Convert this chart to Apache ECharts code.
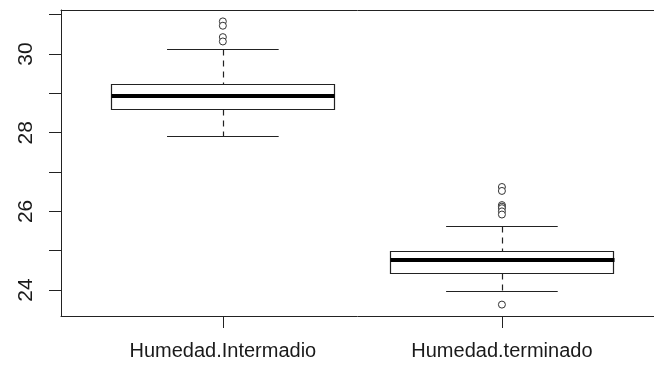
<!DOCTYPE html>
<html>
<head>
<meta charset="utf-8">
<script src="https://cdn.jsdelivr.net/npm/echarts@6/dist/echarts.min.js"></script>
<style>html,body{margin:0;padding:0;background:#fff;}#c{width:654px;height:367px;}</style>
</head>
<body>
<div id="c"></div>
<script>
// Data
var categories = ['Humedad.Intermadio', 'Humedad.terminado'];
// [lower whisker, Q1, median, Q3, upper whisker]
var stats1 = [27.91, 28.60, 28.94, 29.23, 30.13];
var stats2 = [23.97, 24.44, 24.77, 24.99, 25.64];
var outliers1 = [30.83, 30.72, 30.43, 30.32];
var outliers2 = [26.62, 26.52, 26.16, 26.12, 26.08, 26.00, 25.92, 23.63];
var yTicks = [24, 25, 26, 27, 28, 29, 30, 31];
var yLabels = [24, 26, 28, 30];

var boxData = [[1].concat(stats1), [2].concat(stats2)];
var outlierData = [];
outliers1.forEach(function (v) { outlierData.push([1, v]); });
outliers2.forEach(function (v) { outlierData.push([2, v]); });

var FONT = 'Liberation Sans, Arial, sans-serif';
var LC = '#222';

function px(v) { return Math.round(v) + 0.5; }

var chart = echarts.init(document.getElementById('c'), null, { renderer: 'canvas' });
chart.setOption({
  animation: false,
  backgroundColor: '#fff',
  grid: { left: 61, top: 10, bottom: 51, right: 0, show: false },
  xAxis: [{
    type: 'value', min: 0.42, max: 2.545,
    splitLine: { show: false },
    axisLine: { show: true, lineStyle: { color: '#222', width: 1 } },
    axisTick: { show: true, length: 12, lineStyle: { color: '#222' }, customValues: [1, 2] },
    axisLabel: {
      customValues: [1, 2], margin: 25,
      fontFamily: FONT, fontSize: 20, color: '#1a1a1a',
      formatter: function (v) { return categories[Math.round(v) - 1] || ''; }
    }
  }, {
    type: 'value', position: 'top', min: 0.42, max: 2.545,
    splitLine: { show: false }, axisTick: { show: false }, axisLabel: { show: false },
    axisLine: { show: true, lineStyle: { color: '#222', width: 1 } }
  }],
  yAxis: {
    type: 'value', min: 23.34, max: 31.12,
    splitLine: { show: false },
    axisLine: { show: true, lineStyle: { color: '#222', width: 1 } },
    axisTick: { show: true, length: 12, lineStyle: { color: '#222' }, customValues: yTicks },
    axisLabel: {
      customValues: yLabels, rotate: 90, margin: 24,
      fontFamily: FONT, fontSize: 21, color: '#1a1a1a'
    }
  },
  series: [
    {
      type: 'custom',
      data: boxData,
      encode: { x: 0, y: [1, 2, 3, 4, 5] },
      renderItem: function (params, api) {
        var x = api.value(0);
        var lo = api.coord([x, api.value(1)]);
        var q1 = api.coord([x, api.value(2)]);
        var md = api.coord([x, api.value(3)]);
        var q3 = api.coord([x, api.value(4)]);
        var hi = api.coord([x, api.value(5)]);
        var left = api.coord([x - 0.4, 0])[0];
        var right = api.coord([x + 0.4, 0])[0];
        var cl = api.coord([x - 0.2, 0])[0];
        var cr = api.coord([x + 0.2, 0])[0];
        var cx = px(lo[0]);
        var st = { stroke: LC, lineWidth: 1.2, fill: null };
        var dash = { stroke: LC, lineWidth: 1.2, lineDash: [6, 5], fill: null };
        return {
          type: 'group',
          children: [
            { type: 'line', shape: { x1: cx, y1: px(hi[1]), x2: cx, y2: px(q3[1]) }, style: dash },
            { type: 'line', shape: { x1: cx, y1: px(q1[1]), x2: cx, y2: px(lo[1]) }, style: dash },
            { type: 'line', shape: { x1: cl, y1: px(hi[1]), x2: cr, y2: px(hi[1]) }, style: st },
            { type: 'line', shape: { x1: cl, y1: px(lo[1]), x2: cr, y2: px(lo[1]) }, style: st },
            { type: 'rect', shape: { x: px(left), y: px(q3[1]), width: Math.round(right - left), height: Math.round(q1[1] - q3[1]) }, style: { stroke: LC, lineWidth: 1.2, fill: '#fff' } },
            { type: 'line', shape: { x1: px(left), y1: Math.round(md[1]), x2: px(right), y2: Math.round(md[1]) }, style: { stroke: '#000', lineWidth: 4 } }
          ]
        };
      },
      z: 2
    },
    {
      type: 'scatter',
      xAxisIndex: 0,
      data: outlierData,
      symbol: 'circle',
      symbolSize: 7,
      itemStyle: { color: '#fff', borderColor: '#333', borderWidth: 1, opacity: 1 },
      z: 3
    }
  ]
});
</script>
</body>
</html>
